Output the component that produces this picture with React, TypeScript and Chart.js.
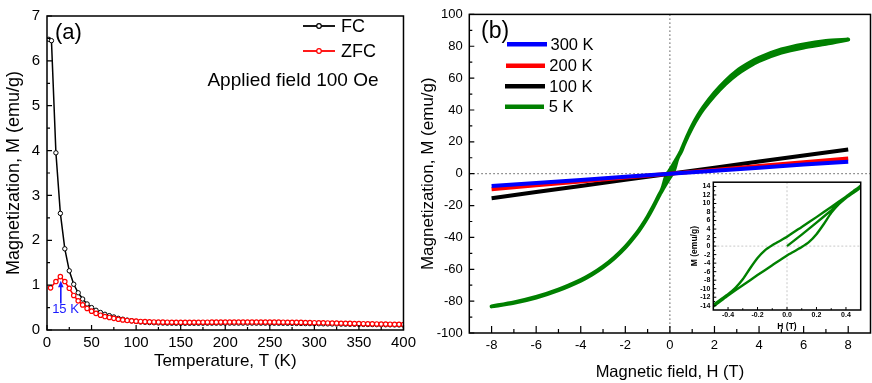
import React, { useEffect, useRef } from 'react';
import { Chart, registerables } from 'chart.js';
Chart.register(...registerables);

const FONT = "'Liberation Sans', Arial, Helvetica, sans-serif";

// ---------- Panel (a): FC / ZFC ----------
const T_FC = [2, 5, 10, 15, 20, 25, 30, 35, 40, 45, 50, 55, 60, 65, 70, 75, 80, 85, 90, 95, 100, 105, 110, 115, 120, 125, 130, 135, 140, 145, 150, 155, 160, 165, 170, 175, 180, 185, 190, 195, 200, 205, 210, 215, 220, 225, 230, 235, 240, 245, 250, 255, 260, 265, 270, 275, 280, 285, 290, 295, 300, 305, 310, 315, 320, 325, 330, 335, 340, 345, 350, 355, 360, 365, 370, 375, 380, 385, 390, 395, 400];
const M_FC = [6.48, 6.45, 3.95, 2.60, 1.81, 1.32, 1.02, 0.83, 0.69, 0.58,
  0.50, 0.44, 0.39, 0.35, 0.32, 0.29, 0.26, 0.24, 0.22, 0.205,
  0.19, 0.18, 0.172, 0.166, 0.162, 0.158, 0.155, 0.153, 0.152, 0.151,
  0.150, 0.150, 0.150, 0.151, 0.151, 0.152, 0.152, 0.153, 0.153, 0.153,
  0.154, 0.154, 0.154, 0.154, 0.154, 0.154, 0.154, 0.153, 0.153, 0.153,
  0.152, 0.152, 0.151, 0.150, 0.149, 0.148, 0.147, 0.146, 0.144, 0.143,
  0.141, 0.140, 0.138, 0.137, 0.135, 0.134, 0.132, 0.131, 0.129, 0.128,
  0.126, 0.125, 0.123, 0.122, 0.120, 0.119, 0.117, 0.116, 0.114, 0.113,
  0.111];
const T_ZFC = [4, 10, 15, 20, 25, 30, 35, 40, 45, 50, 55, 60, 65, 70, 75, 80, 85, 90, 95, 100, 105, 110, 115, 120, 125, 130, 135, 140, 145, 150, 155, 160, 165, 170, 175, 180, 185, 190, 195, 200, 205, 210, 215, 220, 225, 230, 235, 240, 245, 250, 255, 260, 265, 270, 275, 280, 285, 290, 295, 300, 305, 310, 315, 320, 325, 330, 335, 340, 345, 350, 355, 360, 365, 370, 375, 380, 385, 390, 395, 400];
const M_ZFC = [0.94, 1.08, 1.19, 1.08, 0.93, 0.77, 0.65, 0.56, 0.48, 0.42,
  0.37, 0.33, 0.30, 0.28, 0.26, 0.24, 0.225, 0.213, 0.204, 0.197,
  0.191, 0.186, 0.182, 0.179, 0.177, 0.175, 0.174, 0.173, 0.172, 0.172,
  0.172, 0.172, 0.173, 0.173, 0.174, 0.174, 0.175, 0.175, 0.176, 0.176,
  0.177, 0.177, 0.177, 0.177, 0.177, 0.177, 0.177, 0.176, 0.176, 0.176,
  0.175, 0.175, 0.174, 0.173, 0.172, 0.171, 0.169, 0.167, 0.165, 0.163,
  0.161, 0.159, 0.157, 0.155, 0.153, 0.151, 0.149, 0.147, 0.145, 0.143,
  0.141, 0.139, 0.137, 0.135, 0.133, 0.131, 0.129, 0.127, 0.126, 0.124];
const A_X_TICKS = [0, 50, 100, 150, 200, 250, 300, 350, 400];
const A_X_MINOR = [25, 75, 125, 175, 225, 275, 325, 375];
const A_Y_TICKS = [0, 1, 2, 3, 4, 5, 6, 7];
const A_Y_MINOR = [0.5, 1.5, 2.5, 3.5, 4.5, 5.5, 6.5];

// ---------- Panel (b): M(H) ----------
const H_LIN = [-8, -6, -4, -2, 0, 2, 4, 6, 8];
const M_300K = [-7.7, -5.8, -3.9, -1.9, 0, 1.9, 3.8, 5.7, 7.5];
const M_200K = [-9.8, -7.3, -4.9, -2.4, 0, 2.4, 4.8, 7.2, 9.6];
const M_100K = [-15.4, -11.5, -7.7, -3.8, 0, 3.8, 7.6, 11.4, 15.2];
const H_5K_VIRGIN = [0, 0.1, 0.2, 0.3, 0.4, 0.5, 0.6, 0.8, 1, 1.25, 1.5, 2, 2.5, 3, 3.5, 4, 5, 6, 7, 8];
const M_5K_VIRGIN = [0, 2.7, 5.5, 8.4, 11.3, 13.8, 17.2, 23.5, 29.2, 35.3, 40.6, 49.2, 56.5, 62.4, 67.0, 70.8, 76.0, 79.2, 81.5, 84.2];
const H_5K_DOWN = [8, 7, 6, 5, 4, 3.5, 3, 2.5, 2, 1.5, 1.25, 1, 0.8, 0.6, 0.5, 0.45, 0.4, 0.3, 0.2, 0.1, 0, -0.05, -0.1, -0.15, -0.2, -0.25, -0.3, -0.35, -0.4, -0.45, -0.5, -0.6, -0.8, -1, -1.25, -1.5, -2, -2.5, -3, -3.5, -4, -5, -6, -7, -8];
const M_5K_DOWN = [84.2, 83.3, 81.2, 78.0, 72.8, 69.0, 64.4, 58.3, 50.8, 41.8, 36.3, 30.0, 24.1, 17.6, 14.2, 12.9, 11.6, 9.2, 6.8, 4.5, 2.2, 1.2, 0.2, -1.0, -2.8, -5.2, -7.8, -9.8, -11.3, -12.5, -13.8, -16.6, -22.0, -27.0, -32.6, -37.6, -46.0, -52.8, -58.4, -63.0, -66.8, -72.8, -77.4, -80.8, -83.3];
const H_5K_UP = [-8, -7, -6, -5, -4, -3.5, -3, -2.5, -2, -1.5, -1.25, -1, -0.8, -0.6, -0.5, -0.45, -0.4, -0.3, -0.2, -0.1, 0, 0.05, 0.1, 0.15, 0.2, 0.25, 0.3, 0.35, 0.4, 0.45, 0.5, 0.6, 0.8, 1, 1.25, 1.5, 2, 2.5, 3, 3.5, 4, 5, 6, 7, 8];
const M_5K_UP = [-83.3, -81.0, -77.7, -73.1, -67.1, -63.3, -58.7, -53.1, -46.3, -37.9, -32.9, -27.3, -22.3, -16.9, -14.2, -12.9, -11.6, -9.2, -6.8, -4.5, -2.2, -1.2, -0.2, 1.0, 2.8, 5.2, 7.8, 9.8, 11.3, 12.5, 13.8, 17.2, 23.5, 29.2, 35.3, 40.6, 49.2, 56.5, 62.4, 67.0, 70.8, 76.0, 79.2, 81.5, 84.2];
const B_X_TICKS = [-8, -6, -4, -2, 0, 2, 4, 6, 8];
const B_X_MINOR = [-7, -5, -3, -1, 1, 3, 5, 7];
const B_Y_TICKS = [-100, -80, -60, -40, -20, 0, 20, 40, 60, 80, 100];
const B_Y_MINOR = [-90, -70, -50, -30, -10, 10, 30, 50, 70, 90];
const B_LEGEND = ['300 K', '200 K', '100 K', '5 K'];
const B_COLORS = ['#0000ff', '#ff0000', '#000000', '#008000'];

// ---------- Inset ----------
const IN_X_TICKS = [-0.4, -0.2, 0, 0.2, 0.4];
const IN_X_MINOR = [-0.3, -0.1, 0.1, 0.3];
const IN_Y_TICKS = [-14, -12, -10, -8, -6, -4, -2, 0, 2, 4, 6, 8, 10, 12, 14];
const IN_Y_MINOR = [-13, -11, -9, -7, -5, -3, -1, 1, 3, 5, 7, 9, 11, 13];

const zip = (xs: number[], ys: number[]) => xs.map((x, i) => ({ x, y: ys[i] }));

function makeAxis(o: any) {
  const horizontal = o.pos === 'bottom';
  return {
    type: 'linear',
    position: o.pos,
    min: o.min,
    max: o.max,
    afterBuildTicks: (s: any) => { s.ticks = o.ticks.map((v: number) => ({ value: v })); },
    afterFit: (s: any) => { if (horizontal) s.height = o.size; else s.width = o.size; },
    grid: { display: false, drawTicks: false, tickLength: 0 },
    border: { display: false },
    ticks: {
      autoSkip: false, maxRotation: 0, minRotation: 0, padding: o.pad, color: '#000',
      font: { size: o.fontSize, weight: o.bold ? 'bold' : 'normal', family: FONT, lineHeight: 1.2 },
      callback: (v: any) => (o.fmt ? o.fmt(Number(v)) : String(v)),
    },
    title: {
      display: true, text: o.title, color: '#000',
      font: { size: o.titleSize, weight: o.titleBold ? 'bold' : 'normal', family: FONT, lineHeight: 1 },
      padding: o.titlePad,
    },
  };
}

function framePlugin(o: any) {
  return {
    id: 'frame',
    afterDatasetsDraw(chart: any) {
      const { ctx, chartArea: a } = chart;
      const xs = chart.scales.x, ys = chart.scales.y;
      ctx.save();
      ctx.strokeStyle = '#000';
      ctx.lineWidth = o.tickW;
      ctx.beginPath();
      o.xMajor.forEach((v: number) => { const p = xs.getPixelForValue(v); ctx.moveTo(p, a.bottom); ctx.lineTo(p, a.bottom - o.xMaj); });
      o.xMinor.forEach((v: number) => { const p = xs.getPixelForValue(v); ctx.moveTo(p, a.bottom); ctx.lineTo(p, a.bottom - o.xMin); });
      o.yMajor.forEach((v: number) => { const p = ys.getPixelForValue(v); ctx.moveTo(a.left, p); ctx.lineTo(a.left + o.yMaj, p); });
      o.yMinor.forEach((v: number) => { const p = ys.getPixelForValue(v); ctx.moveTo(a.left, p); ctx.lineTo(a.left + o.yMin, p); });
      ctx.stroke();
      ctx.lineWidth = o.lw;
      ctx.strokeRect(a.left, a.top, a.right - a.left, a.bottom - a.top);
      ctx.restore();
    },
  };
}

function zeroLinesPlugin(color: string, dash: number[], lw: number) {
  return {
    id: 'zeroLines',
    beforeDatasetsDraw(chart: any) {
      const { ctx, chartArea: a } = chart;
      const x0 = chart.scales.x.getPixelForValue(0);
      const y0 = chart.scales.y.getPixelForValue(0);
      ctx.save();
      ctx.strokeStyle = color;
      ctx.lineWidth = lw;
      ctx.setLineDash(dash);
      ctx.beginPath();
      ctx.moveTo(x0, a.top); ctx.lineTo(x0, a.bottom);
      ctx.moveTo(a.left, y0); ctx.lineTo(a.right, y0);
      ctx.stroke();
      ctx.restore();
    },
  };
}

export default function App() {
  const aRef = useRef<HTMLCanvasElement>(null);
  const bRef = useRef<HTMLCanvasElement>(null);
  const iRef = useRef<HTMLCanvasElement>(null);

  useEffect(() => {
    document.body.style.margin = '0';
    Chart.defaults.font.family = FONT;

    // ----- Panel (a) -----
    const annotA = {
      id: 'annotA',
      afterDraw(chart: any) {
        const { ctx } = chart;
        const xs = chart.scales.x, ys = chart.scales.y;
        ctx.save();
        ctx.textBaseline = 'middle';
        ctx.fillStyle = '#000';
        ctx.font = `22px ${FONT}`;
        ctx.textAlign = 'left';
        ctx.fillText('(a)', 55, 33);
        const items = [{ t: 'FC', c: '#000', y: 26 }, { t: 'ZFC', c: '#ff0000', y: 51 }];
        items.forEach((it) => {
          ctx.strokeStyle = it.c;
          ctx.lineWidth = 1.8;
          ctx.beginPath(); ctx.moveTo(303, it.y); ctx.lineTo(335, it.y); ctx.stroke();
          ctx.fillStyle = '#fff';
          ctx.lineWidth = 1.2;
          ctx.beginPath(); ctx.arc(319, it.y, 2.3, 0, Math.PI * 2); ctx.fill(); ctx.stroke();
          ctx.fillStyle = '#000';
          ctx.font = `18px ${FONT}`;
          ctx.fillText(it.t, 341, it.y + 1);
        });
        ctx.font = `19px ${FONT}`;
        ctx.textAlign = 'center';
        ctx.fillText('Applied field 100 Oe', 293, 81);
        const ax = xs.getPixelForValue(15.5);
        const tip = ys.getPixelForValue(1.1);
        const base = ys.getPixelForValue(0.59);
        ctx.strokeStyle = '#1a1aff';
        ctx.fillStyle = '#1a1aff';
        ctx.lineWidth = 1.6;
        ctx.beginPath(); ctx.moveTo(ax, base); ctx.lineTo(ax, tip + 4); ctx.stroke();
        ctx.beginPath(); ctx.moveTo(ax, tip); ctx.lineTo(ax - 2.8, tip + 6.5); ctx.lineTo(ax + 2.8, tip + 6.5); ctx.closePath(); ctx.fill();
        ctx.font = `13px ${FONT}`;
        ctx.textAlign = 'center';
        ctx.fillText('15 K', 65.5, 309.5);
        ctx.restore();
      },
    };

    const chartA = new Chart(aRef.current as HTMLCanvasElement, {
      type: 'line',
      data: {
        datasets: [
          { label: 'ZFC', data: zip(T_ZFC, M_ZFC), borderColor: '#ff0000', borderWidth: 1.5, pointRadius: 2.2, pointBorderWidth: 1.2, pointBackgroundColor: '#fff', pointBorderColor: '#ff0000', tension: 0 },
          { label: 'FC', data: zip(T_FC, M_FC), borderColor: '#000', borderWidth: 1.5, pointRadius: 2.2, pointBorderWidth: 1, pointBackgroundColor: '#fff', pointBorderColor: '#000', tension: 0 },
        ],
      } as any,
      options: {
        animation: false,
        responsive: false,
        events: [],
        layout: { padding: { left: 0, top: 13, right: 15, bottom: 0 } },
        plugins: { legend: { display: false }, tooltip: { enabled: false } },
        scales: {
          x: makeAxis({ pos: 'bottom', min: 0, max: 400, ticks: A_X_TICKS, size: 53, fontSize: 15, pad: 4, title: 'Temperature, T (K)', titleSize: 17, titlePad: { top: 0, bottom: 12.8 } }),
          y: makeAxis({ pos: 'left', min: 0, max: 7, ticks: A_Y_TICKS, size: 47, fontSize: 15, pad: 7, title: 'Magnetization, M (emu/g)', titleSize: 18, titlePad: { top: 5, bottom: 0 } }),
        } as any,
      },
      plugins: [
        framePlugin({ xMajor: A_X_TICKS, xMinor: A_X_MINOR, yMajor: A_Y_TICKS, yMinor: A_Y_MINOR, xMaj: 5, xMin: 3, yMaj: 5, yMin: 3, lw: 1.5, tickW: 1.2 }),
        annotA,
      ],
    } as any);

    // ----- Panel (b) -----
    const annotB = {
      id: 'annotB',
      afterDraw(chart: any) {
        const { ctx } = chart;
        ctx.save();
        ctx.textBaseline = 'middle';
        ctx.fillStyle = '#000';
        ctx.textAlign = 'left';
        ctx.font = `23px ${FONT}`;
        ctx.fillText('(b)', 61, 32);
        const rows = [
          { x0: 87, x1: 127, y: 44.3, tx: 130.5 },
          { x0: 86, x1: 125, y: 65.7, tx: 129.3 },
          { x0: 85, x1: 125, y: 86.3, tx: 129.3 },
          { x0: 85, x1: 124, y: 106.7, tx: 128.7 },
        ];
        rows.forEach((r, i) => {
          ctx.strokeStyle = B_COLORS[i];
          ctx.lineWidth = 4.5;
          ctx.beginPath(); ctx.moveTo(r.x0, r.y); ctx.lineTo(r.x1, r.y); ctx.stroke();
          ctx.fillStyle = '#000';
          ctx.font = `16.5px ${FONT}`;
          ctx.fillText(B_LEGEND[i], r.tx, r.y + 1);
        });
        ctx.restore();
      },
    };

    const green = [...zip(H_5K_VIRGIN, M_5K_VIRGIN), ...zip(H_5K_DOWN, M_5K_DOWN), ...zip(H_5K_UP, M_5K_UP)];
    const lineSeries = [M_300K, M_200K, M_100K];

    const chartB = new Chart(bRef.current as HTMLCanvasElement, {
      type: 'line',
      data: {
        datasets: [
          ...lineSeries.map((m, i) => ({ label: B_LEGEND[i], data: zip(H_LIN, m), borderColor: B_COLORS[i], borderWidth: 4, pointRadius: 0, tension: 0, borderCapStyle: 'butt' })),
          { label: B_LEGEND[3], data: green, borderColor: B_COLORS[3], borderWidth: 4, pointRadius: 0, tension: 0.25, borderJoinStyle: 'round' },
        ],
      } as any,
      options: {
        animation: false,
        responsive: false,
        events: [],
        layout: { padding: { left: 0, top: 13, right: 1.5, bottom: 0 } },
        plugins: { legend: { display: false }, tooltip: { enabled: false } },
        scales: {
          x: makeAxis({ pos: 'bottom', min: -9, max: 9, ticks: B_X_TICKS, size: 50, fontSize: 13, pad: 5, title: 'Magnetic field, H (T)', titleSize: 16.5, titlePad: { top: 0, bottom: 2 } }),
          y: makeAxis({ pos: 'left', min: -100, max: 100, ticks: B_Y_TICKS, size: 49.3, fontSize: 13, pad: 6.6, title: 'Magnetization, M (emu/g)', titleSize: 17, titlePad: { top: 0, bottom: 0 } }),
        } as any,
      },
      plugins: [
        zeroLinesPlugin('#555', [1.5, 2.5], 1),
        framePlugin({ xMajor: B_X_TICKS, xMinor: B_X_MINOR, yMajor: B_Y_TICKS, yMinor: B_Y_MINOR, xMaj: 7, xMin: 4, yMaj: 5, yMin: 3, lw: 1.5, tickW: 1.2 }),
        annotB,
      ],
    } as any);

    // ----- Inset -----
    const insetBg = {
      id: 'insetBg',
      beforeDraw(chart: any) {
        const { ctx } = chart;
        ctx.save();
        ctx.fillStyle = '#fff';
        ctx.fillRect(0, 0, chart.width, 150);
        ctx.restore();
      },
    };
    const chartI = new Chart(iRef.current as HTMLCanvasElement, {
      type: 'line',
      data: {
        datasets: [
          { label: '5 K', data: green, borderColor: B_COLORS[3], borderWidth: 2.4, pointRadius: 0, tension: 0.2, borderJoinStyle: 'round' },
        ],
      } as any,
      options: {
        animation: false,
        responsive: false,
        events: [],
        layout: { padding: { left: 0, top: 5, right: 5.3, bottom: 0 } },
        plugins: { legend: { display: false }, tooltip: { enabled: false } },
        scales: {
          x: makeAxis({ pos: 'bottom', min: -0.5, max: 0.5, ticks: IN_X_TICKS, size: 23, fontSize: 7, bold: true, pad: 1, fmt: (v: number) => v.toFixed(1), title: 'H (T)', titleSize: 8.5, titleBold: true, titlePad: { top: 0, bottom: 2 } }),
          y: makeAxis({ pos: 'left', min: -15, max: 15, ticks: IN_Y_TICKS, size: 25.3, fontSize: 7, bold: true, pad: 3, title: 'M (emu/g)', titleSize: 8.5, titleBold: true, titlePad: { top: 2.75, bottom: 0 } }),
        } as any,
      },
      plugins: [
        insetBg,
        zeroLinesPlugin('#c8c8c8', [2, 2], 1),
        framePlugin({ xMajor: IN_X_TICKS, xMinor: IN_X_MINOR, yMajor: IN_Y_TICKS, yMinor: IN_Y_MINOR, xMaj: 3, xMin: 1.8, yMaj: 3, yMin: 1.8, lw: 1.5, tickW: 1 }),
      ],
    } as any);

    return () => { chartA.destroy(); chartB.destroy(); chartI.destroy(); };
  }, []);

  return (
    <div style={{ position: 'fixed', left: 0, top: 0, width: 872, height: 383, background: '#fff', overflow: 'hidden' }}>
      <canvas ref={aRef} width={420} height={383} style={{ position: 'absolute', left: 0, top: 0, width: 420, height: 383 }} />
      <canvas ref={bRef} width={452} height={383} style={{ position: 'absolute', left: 420, top: 0, width: 452, height: 383 }} />
      <canvas ref={iRef} width={178} height={158} style={{ position: 'absolute', left: 688, top: 175, width: 178, height: 158 }} />
    </div>
  );
}
